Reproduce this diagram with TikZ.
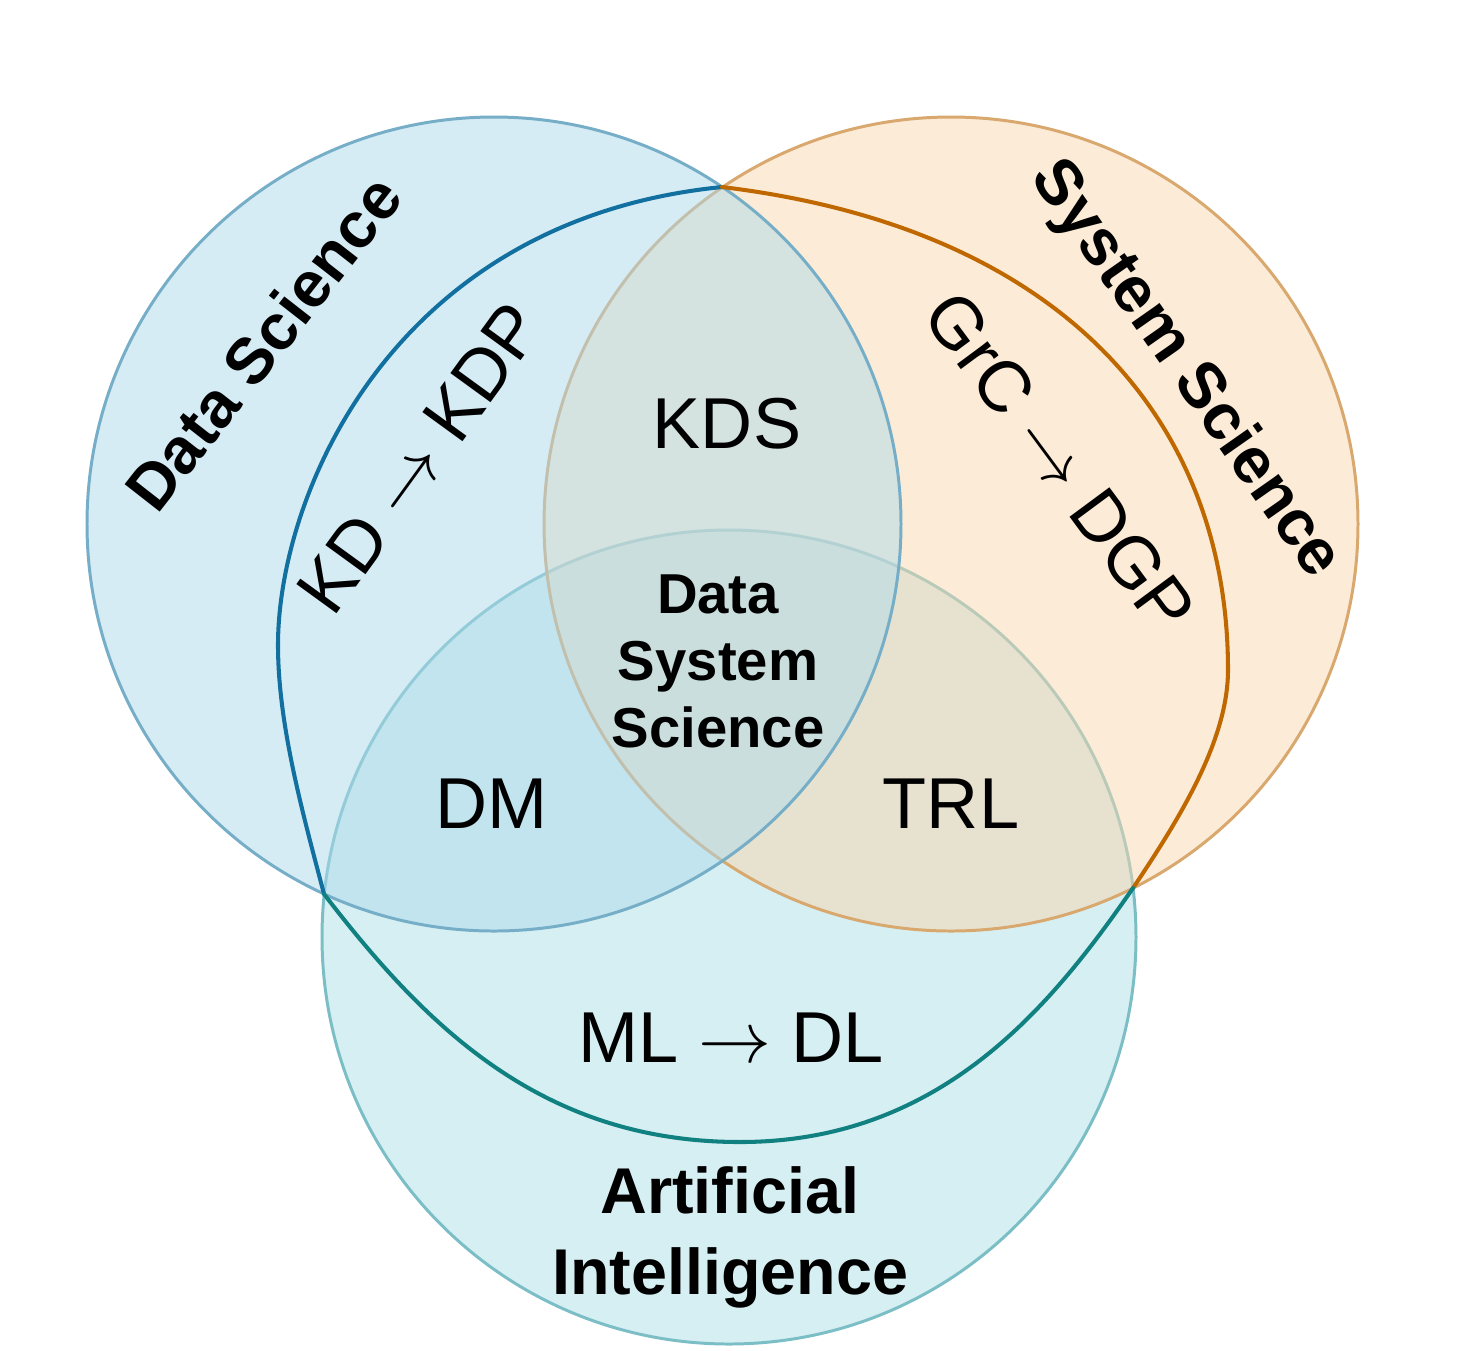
\documentclass[tikz,border=0pt]{standalone}
\usepackage{fontspec}
\setmainfont{Liberation Sans}
\definecolor{dsFill}{RGB}{173,217,235}
\definecolor{ssFill}{RGB}{249,215,173}
\definecolor{aiFill}{RGB}{173,223,229}
\definecolor{dsLine}{RGB}{118,174,200}
\definecolor{ssLine}{RGB}{216,168,110}
\definecolor{aiLine}{RGB}{124,190,198}
\definecolor{cBlue}{RGB}{18,112,160}
\definecolor{cOrange}{RGB}{192,104,0}
\definecolor{cTeal}{RGB}{16,128,128}
\newcommand{\myarr}{$\rightarrow$}
\begin{document}
\begin{tikzpicture}[x=0.01cm,y=-0.01cm,
  circ/.style={line width=0.85pt, fill opacity=0.5},
  inner/.style={line width=1.15pt, line join=round, line cap=round},
  lbl/.style={font=\fontsize{20.5}{24}\selectfont, inner sep=0pt, text=black},
  blbl/.style={font=\bfseries\fontsize{18.4}{22}\selectfont, inner sep=0pt, text=black},
  clbl/.style={font=\bfseries\fontsize{16}{19}\selectfont, inner sep=0pt, text=black}]
\useasboundingbox (0,0) rectangle (1460,1350);
% circles (order: AI, System Science, Data Science)
\draw[circ, draw=aiLine, fill=aiFill] (729,937) circle (407);
\draw[circ, draw=ssLine, fill=ssFill] (951,524) circle (407);
\draw[circ, draw=dsLine, fill=dsFill] (494,524) circle (407);
% junction and extreme points of the inner closed curve
\coordinate (jt) at (722,187);
\coordinate (jr) at (1133,888);
\coordinate (jl) at (324,894);
\coordinate (xl) at (278,645);
\coordinate (xr) at (1228,670);
\coordinate (xb) at (740,1142);
% inner curve, three coloured parts
\draw[inner, draw=cBlue] (jt) .. controls (392,220) and (278,495) .. (xl)
  .. controls (278,725) and (303,814) .. (jl);
\draw[inner, draw=cOrange] (jt) .. controls (1062,228) and (1228,420) .. (xr)
  .. controls (1228,740) and (1180,818) .. (jr);
\draw[inner, draw=cTeal] (jr) .. controls (1050,1008) and (940,1142) .. (xb)
  .. controls (540,1142) and (424,1024) .. (jl);
% labels
\node[blbl, rotate=52] (ds) at (263,343) {Data Science};
\node[blbl, rotate=-55] (ss) at (1185,370) {System Science};
\node[lbl, rotate=54] (kd) at (420,458) {KD \myarr{} KDP};
\node[lbl, rotate=-53.5] (grc) at (1060,462) {GrC \myarr{} DGP};
\node[lbl, anchor=base] (kds) at (727,448) {KDS};
\node[clbl, anchor=base] (c1) at (718,613) {Data};
\node[clbl, anchor=base] (c2) at (718,680) {System};
\node[clbl, anchor=base] (c3) at (718,747) {Science};
\node[lbl, anchor=base] (dm) at (492,828) {DM};
\node[lbl, anchor=base] (trl) at (951,828) {TRL};
\node[lbl, anchor=base] (ml) at (731,1062) {ML \myarr{} DL};
\node[blbl, anchor=base] (ai1) at (730,1213) {Artificial};
\node[blbl, anchor=base] (ai2) at (730,1294) {Intelligence};
\end{tikzpicture}
\end{document}
